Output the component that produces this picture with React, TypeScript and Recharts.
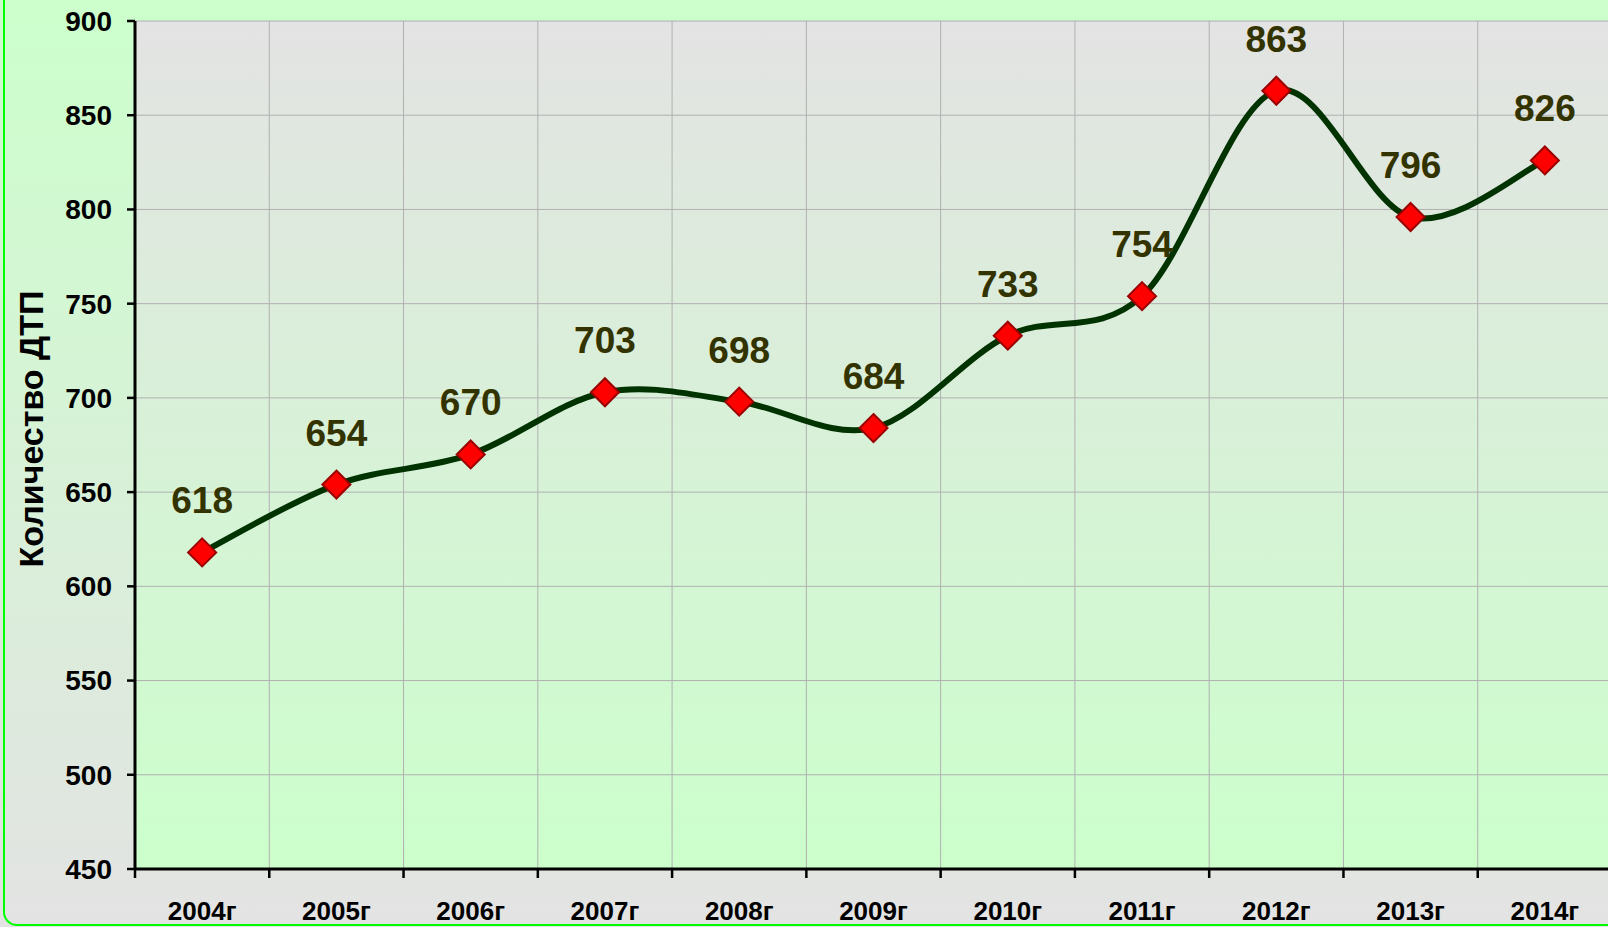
import React from 'react'
import { LineChart, Line, XAxis, YAxis, CartesianGrid, LabelList } from 'recharts'

const YEARS = ['2004г', '2005г', '2006г', '2007г', '2008г', '2009г', '2010г', '2011г', '2012г', '2013г', '2014г']
const DTP = [618, 654, 670, 703, 698, 684, 733, 754, 863, 796, 826]
const Y_TICKS = [450, 500, 550, 600, 650, 700, 750, 800, 850, 900]
const X_BOUNDS = YEARS.map((_, i) => i).concat(YEARS.length)

const W = 1612
const H = 927
const AXIS_W = 135
const STEP = (W - AXIS_W) / YEARS.length
const FONT = '"Liberation Sans", Arial, sans-serif'

const data = YEARS.map((year, i) => ({ x: i + 0.5, year, value: DTP[i] }))

// Excel-style smoothed line (cardinal spline, tension 0)
function excelCurve(context: any) {
  let pts: number[][] = []
  return {
    areaStart() {},
    areaEnd() {},
    lineStart() { pts = [] },
    point(x: number, y: number) { pts.push([+x, +y]) },
    lineEnd() {
      const n = pts.length
      if (!n) return
      context.moveTo(pts[0][0], pts[0][1])
      for (let i = 0; i < n - 1; i++) {
        const p0 = pts[Math.max(0, i - 1)]
        const p1 = pts[i]
        const p2 = pts[i + 1]
        const p3 = pts[Math.min(n - 1, i + 2)]
        context.bezierCurveTo(
          p1[0] + (p2[0] - p0[0]) / 6, p1[1] + (p2[1] - p0[1]) / 6,
          p2[0] - (p3[0] - p1[0]) / 6, p2[1] - (p3[1] - p1[1]) / 6,
          p2[0], p2[1]
        )
      }
    },
  }
}

const Diamond = (props: any) => {
  const { cx, cy } = props
  if (cx == null || cy == null) return null
  const r = 14
  return (
    <polygon
      points={`${cx},${cy - r} ${cx + r},${cy} ${cx},${cy + r} ${cx - r},${cy}`}
      fill="#ff0000"
      stroke="#990000"
      strokeWidth={2}
    />
  )
}

const XTick = (props: any) => {
  const { x, payload } = props
  if (payload.value >= YEARS.length) return null
  return (
    <text x={x + STEP / 2} y={920} textAnchor="middle" fontSize={26} fontWeight="bold" fill="#000">
      {YEARS[payload.value]}
    </text>
  )
}

const ValueLabel = (props: any) => {
  const { x, y, value } = props
  return (
    <text x={x} y={y - 39} textAnchor="middle" fontSize={37} fontWeight="bold" fill="#333300">
      {value}
    </text>
  )
}

export default function App() {
  return (
    <div style={{ position: 'absolute', left: 0, top: 0, width: 1608, height: 927, overflow: 'hidden', fontFamily: FONT, background: 'linear-gradient(#ccffcc, #e3e3e3)' }}>
      <div style={{ position: 'absolute', left: 3, top: -30, width: 1650, height: 956, border: '2px solid #00ff00', borderRadius: 14, boxSizing: 'border-box' }} />
      <div style={{ position: 'absolute', left: 0, top: 0 }}>
        <LineChart width={W} height={H} data={data} margin={{ top: 21, right: 0, bottom: 0, left: 0 }}>
          <defs>
            <linearGradient id="plotBg" x1="0" y1="0" x2="0" y2="1">
              <stop offset="0%" stopColor="#e3e3e3" />
              <stop offset="100%" stopColor="#ccffcc" />
            </linearGradient>
          </defs>
          <CartesianGrid stroke="#b0b0b0" strokeWidth={1} fill="url(#plotBg)" fillOpacity={1} verticalValues={X_BOUNDS} horizontalValues={Y_TICKS} />
          <XAxis
            dataKey="x"
            type="number"
            domain={[0, YEARS.length]}
            ticks={X_BOUNDS}
            interval={0}
            height={58}
            axisLine={{ stroke: '#000', strokeWidth: 3 }}
            tickLine={{ stroke: '#000', strokeWidth: 2.5 }}
            tickSize={9}
            tick={<XTick />}
          />
          <YAxis
            type="number"
            domain={[450, 900]}
            ticks={Y_TICKS}
            interval={0}
            width={AXIS_W}
            axisLine={{ stroke: '#000', strokeWidth: 3 }}
            tickLine={{ stroke: '#000', strokeWidth: 2.5 }}
            tickSize={8}
            tickMargin={15}
            tick={{ fontSize: 28, fontWeight: 'bold', fill: '#000' }}
          />
          <Line
            dataKey="value"
            type={excelCurve as any}
            stroke="#003300"
            strokeWidth={6}
            dot={<Diamond />}
            activeDot={false}
            isAnimationActive={false}
          >
            <LabelList dataKey="value" content={<ValueLabel />} />
          </Line>
          <text x={31} y={429} transform="rotate(-90 31 429)" textAnchor="middle" dominantBaseline="central" fontSize={34} fontWeight="bold" fill="#000">
            Количество ДТП
          </text>
        </LineChart>
      </div>
    </div>
  )
}
